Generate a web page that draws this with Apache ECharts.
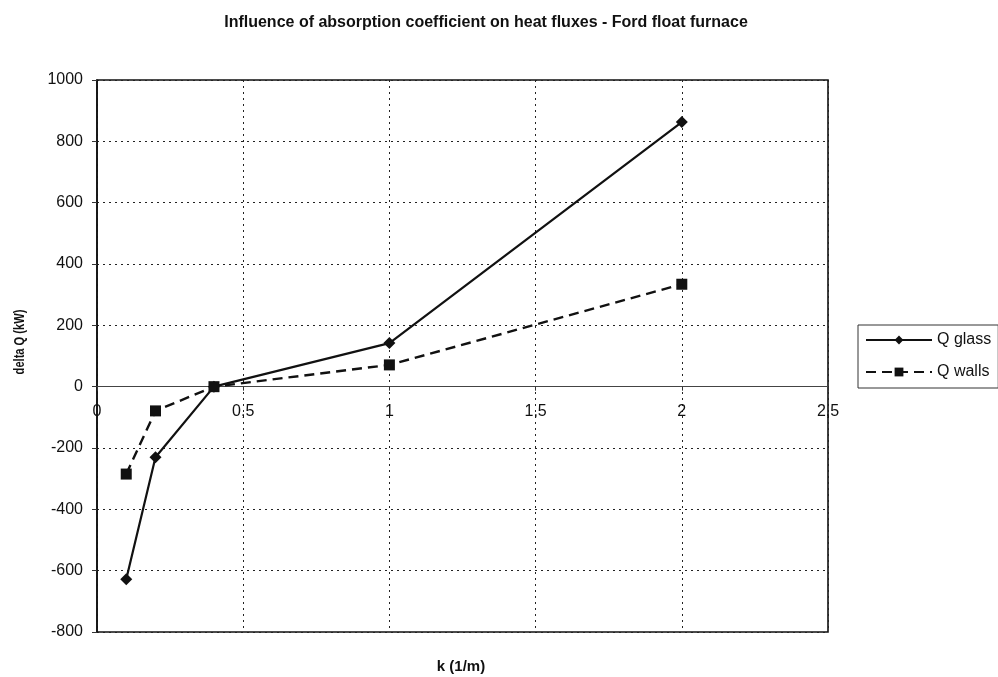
<!DOCTYPE html>
<html>
<head>
<meta charset="utf-8">
<script src="https://cdn.jsdelivr.net/npm/echarts@6/dist/echarts.min.js"></script>
<style>html,body{margin:0;padding:0;background:#fff;}#c{width:998px;height:677px;}</style>
</head>
<body>
<div id="c"></div>
<script>
var kValues = [0.1, 0.2, 0.4, 1, 2];
var qGlass = [-628, -230, 0, 142, 863];
var qWalls = [-285, -79, 0, 71, 334];
var xTicks = [0, 0.5, 1, 1.5, 2, 2.5];
var yTicks = [-800, -600, -400, -200, 0, 200, 400, 600, 800, 1000];

function pairs(xs, ys) { return xs.map(function (x, i) { return [x, ys[i]]; }); }

var chart = echarts.init(document.getElementById('c'));
var font = 'Liberation Sans, Arial, sans-serif';
var gridTop = 80, gridH = 552;
var zeroOffset = -gridH * (0 - yTicks[0]) / (yTicks[yTicks.length - 1] - yTicks[0]);

chart.setOption({
  animation: false,
  backgroundColor: '#fff',
  title: [
    { text: 'Influence of absorption coefficient on heat fluxes - Ford float furnace', left: 481, top: 10, textAlign: 'center',
      textStyle: { fontFamily: font, fontSize: 16, fontWeight: 'bold', color: '#111' } },
    { text: 'k (1/m)', left: 456, top: 654, textAlign: 'center',
      textStyle: { fontFamily: font, fontSize: 15, fontWeight: 'bold', color: '#111' } }
  ],
  graphic: [
    { type: 'text', x: 20, y: 342, rotation: Math.PI / 2, scaleX: 0.74,
      style: { text: 'delta Q (kW)', font: 'bold 15px ' + font, fill: '#111', textAlign: 'center', textVerticalAlign: 'middle' } }
  ],
  grid: { left: 97, top: gridTop, width: 731, height: gridH, show: true, borderColor: '#111', borderWidth: 1.6, backgroundColor: '#fff' },
  legend: {
    orient: 'vertical', left: 858, top: 325, itemWidth: 66, itemHeight: 11, itemGap: 16,
    padding: [7, 7, 8, 7], borderColor: '#333', borderWidth: 1, backgroundColor: '#fff',
    textStyle: { fontFamily: font, fontSize: 16, color: '#111' },
    data: ['Q glass', 'Q walls']
  },
  xAxis: {
    type: 'value', min: xTicks[0], max: xTicks[xTicks.length - 1], interval: 0.5,
    offset: zeroOffset,
    axisLine: { onZero: false, lineStyle: { color: '#444', width: 1.2 } },
    axisTick: { show: true, length: 4, lineStyle: { color: '#333' } },
    axisLabel: { fontFamily: font, fontSize: 16, color: '#111', margin: 17,
      formatter: function (v) { return String(v).replace('.', ','); } },
    splitLine: { show: true, lineStyle: { color: '#222', type: [2, 4], width: 1 } }
  },
  yAxis: {
    type: 'value', min: yTicks[0], max: yTicks[yTicks.length - 1], interval: 200,
    axisLine: { show: true, onZero: false, lineStyle: { color: '#111', width: 1.6 } },
    axisTick: { show: true, length: 5, lineStyle: { color: '#333' } },
    axisLabel: { fontFamily: font, fontSize: 16, color: '#111', margin: 14,
      formatter: function (v) { return String(v); } },
    splitLine: { show: true, lineStyle: { color: '#222', type: [2, 4], width: 1 } }
  },
  series: [
    { name: 'Q glass', type: 'line', data: pairs(kValues, qGlass), symbol: 'diamond', symbolSize: 12,
      itemStyle: { color: '#111' }, lineStyle: { color: '#111', width: 2.2 } },
    { name: 'Q walls', type: 'line', data: pairs(kValues, qWalls), symbol: 'rect', symbolSize: 11,
      itemStyle: { color: '#111' }, lineStyle: { color: '#111', width: 2.4, type: [10, 6] } }
  ]
});
</script>
</body>
</html>
